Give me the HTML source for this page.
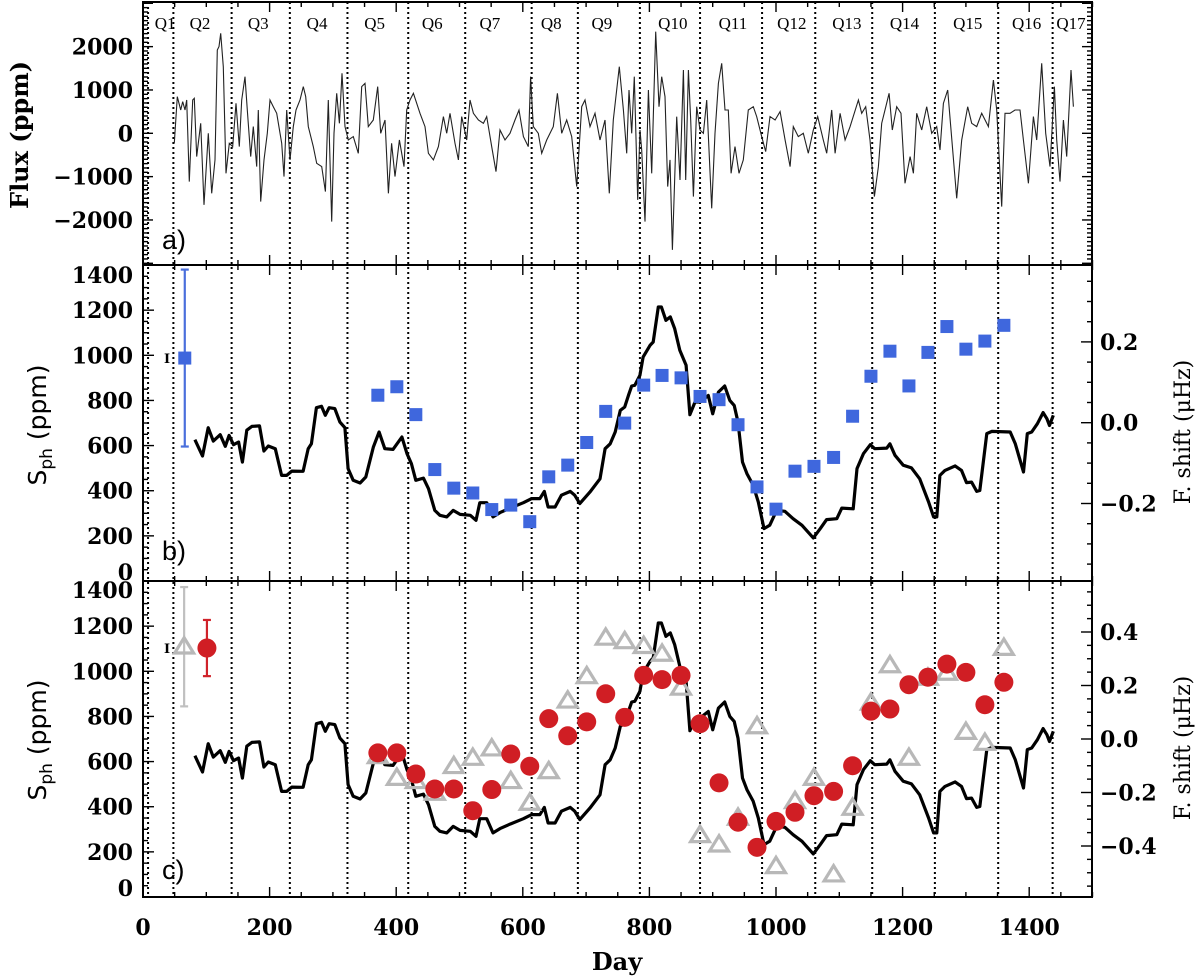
<!DOCTYPE html>
<html><head><meta charset="utf-8">
<style>
html,body{margin:0;padding:0;background:#fff;}
svg{display:block;}
.tl{font-family:"DejaVu Serif","Liberation Serif",serif;font-weight:bold;font-size:22px;fill:#000;}
.ql{font-family:"Liberation Serif","DejaVu Serif",serif;font-size:17px;fill:#000;}
</style></head>
<body>
<svg id="chart" width="1200" height="976" viewBox="0 0 1200 976" xmlns="http://www.w3.org/2000/svg">
<g id="grid"></g>
<g id="pa"></g>
<g id="pb"></g>
<g id="pc"></g>
<g id="axes"></g>
</svg>
<script>
// ---------- data ----------
const quarterBoundaryDays = [8,48,140,232,323,419,509,614,687,785,880,978,1062,1152,1251,1351,1437];
const quarterLabels = ["Q1","Q2","Q3","Q4","Q5","Q6","Q7","Q8","Q9","Q10","Q11","Q12","Q13","Q14","Q15","Q16","Q17"];
const quarterLabelDays = [35,90,182,275,366,457,548,645,725,837,932,1025,1112,1203,1303,1396,1466];

const fluxDays = [49.5,54.2,59.5,62.7,66.4,69,73.2,78.5,81.1,84.8,91.1,96.4,103.2,108.5,113.7,117.4,120.1,122.7,126.9,131.1,136.4,141.7,146.9,152.2,155.9,161.1,164.8,170.1,174.3,179.6,182.2,185.9,191.2,196.4,200.6,205.9,211.2,219.1,222.8,227,232.2,237.5,241.7,248,253.3,257,261.2,269.1,274.4,282.3,288.1,292.8,298.1,301.7,306,310.2,314.4,319.1,324.4,332.3,340.2,345.5,350.7,356,363.9,370.7,375.5,382.3,387.6,392.8,398.1,405,412.3,416.6,421.8,427.1,437.6,445.5,450.8,458.7,466.6,474.5,479.7,485,492.9,498.2,503.4,511.3,516.6,521.9,529.8,537.7,542.9,550.8,557.7,564,571.9,579.8,587.7,594,600.9,608.7,612.4,616.6,624.5,629.8,637.7,648.2,654.6,661.4,669.3,677.2,685.1,693,698.3,706.2,714.1,722,729.9,736.7,743,752.5,
758.9,764.1,767.8,772,776.2,781.5,785.2,787.8,793.1,798.4,803.6,810,815.2,819.4,824.7,828.9,832.6,836.3,843.1,848.4,853.7,857.3,861.6,865.2,869.5,874.7,880,885.3,890.5,898.4,903.7,909,914.2,919.5,924.7,929,935.3,941.6,948.4,956.3,964.2,969.5,977.4,983.7,990.6,998.5,1006.4,1014.3,1022.2,1027.4,1035.3,1043.2,1051.1,1059,1065.9,1074.8,1080.1,1088,1093.3,1101.2,1109.1,1117,1130.1,1135.4,1141.7,1148.5,1155.4,1161.7,1167,1172.2,1178.6,1183.8,1190.7,1197.5,1203.8,1211.8,1217,1222.3,1230.2,1238.1,1246,1253.9,1259.1,1264.4,1271.2,1278.6,1285.5,1293.4,1302.8,1309.2,1317.1,1325,1335.5,1343.4,1348.7,1356.6,1361.8,1369.7,1377.6,1385.5,1390.8,1398.7,1406.6,1411.8,1419.8,1426.1,1432.9,1439.8,1443.5,1448.7,1454,1459.2,1466.1,1469.8];
const fluxPpm = [-230,846,538,731,538,769,-1115,769,807,-538,231,-1653,0,-1384,-615,1923,2000,2307,1538,-923,-231,-308,692,-308,769,1307,538,-538,154,-769,538,-1576,-615,0,769,615,461,-231,-1000,538,-615,154,538,769,1077,846,154,-308,-692,-769,-1346,769,-2038,0,923,231,1384,154,-154,-77,-461,1077,1154,154,308,1077,0,308,-1384,-231,-1000,-154,-769,538,769,923,461,154,-461,-615,-308,385,0,461,-231,-615,385,-154,769,461,308,231,385,-308,-884,77,-154,0,308,538,-77,-308,1307,154,0,-461,-154,154,923,0,308,-77,-1230,615,769,154,461,-154,308,-1384,308,1538,
538,-461,1000,0,1307,-1538,77,-385,-2038,1000,-923,2345,615,1307,846,-1230,-615,-2692,385,-1077,1461,-1077,1461,308,-1461,615,77,0,769,-1730,0,1154,1615,538,538,-923,-308,-923,-615,538,615,385,-77,-423,385,308,500,-154,-769,154,-77,0,-461,77,385,-154,-461,538,-461,461,-154,154,769,461,615,-154,-1461,-769,231,538,923,77,615,461,-1154,-538,-923,461,77,615,0,154,-385,692,1000,-308,-1500,-154,615,231,154,461,154,1230,538,-1692,461,461,538,538,-154,-1154,385,-154,1615,0,-769,1077,-154,-1115,308,-538,1461,615];

const sphDays = [82,94,103,111,122,130,136,143,151,157,164,172,184,191,198,209,219,227,235,253,261,266,274,282,288,294,303,311,319,324,332,343,352,364,373,382,395,409,417,424,431,443,451,461,469,480,490,501,517,526,532,543,553,564,580,601,614,627,634,640,651,661,675,682,690,706,722,730,738,746,754,761,767,772,777,785,790,801,806,814,819,826,833,840,848,858,864,872,880,893,900,909,919,927,934,940,947,954,964,972,981,990,1001,1014,1027,1041,1059,1070,1080,1096,1104,1122,1128,1138,1149,1156,1175,1180,1188,1201,1214,1227,1241,1249,1254,1259,1267,1283,1293,1301,1309,1317,1322,1333,1341,1370,1378,1391,1397,1404,1413,1422,1428,1432,1438];
const sphPpm = [626,554,679,620,648,597,645,604,616,527,668,685,687,576,598,586,468,468,487,486,586,608,768,774,734,768,764,704,679,498,446,434,461,594,660,586,583,638,564,520,446,456,409,313,291,284,313,295,291,269,347,347,284,303,323,347,365,365,397,328,328,380,397,380,343,394,453,586,608,660,756,771,823,864,867,911,992,1044,1059,1214,1214,1155,1170,1118,1022,956,737,793,793,822,741,837,864,800,778,704,527,476,424,350,232,247,313,309,276,247,191,232,272,276,323,320,498,564,604,586,589,608,557,513,501,453,350,284,284,468,490,510,490,436,438,397,401,653,663,660,608,483,653,660,697,746,719,689,734];

const blueDays = [371,401,431,461,491,521,551,581,611,641,671,701,731,761,791,820,850,880,910,940,970,1000,1030,1060,1091,1121,1150,1180,1210,1240,1270,1300,1330,1360];
const blueShift = [0.068,0.089,0.020,-0.116,-0.162,-0.174,-0.215,-0.204,-0.245,-0.134,-0.105,-0.049,0.028,-0.001,0.093,0.117,0.111,0.065,0.057,-0.005,-0.159,-0.214,-0.120,-0.108,-0.086,0.016,0.115,0.177,0.091,0.174,0.238,0.182,0.202,0.241];
const blueErr = {day:66, value:0.160, err:0.219};

const redDays = [371,401,431,461,491,521,551,581,611,641,671,701,731,761,791,820,850,880,910,940,970,1000,1030,1060,1091,1121,1150,1180,1210,1240,1270,1300,1330,1360];
const redShift = [-0.052,-0.052,-0.131,-0.187,-0.187,-0.268,-0.189,-0.056,-0.102,0.076,0.012,0.064,0.169,0.081,0.238,0.222,0.238,0.057,-0.164,-0.311,-0.405,-0.308,-0.274,-0.212,-0.196,-0.100,0.104,0.112,0.203,0.231,0.280,0.249,0.128,0.212];
const grayDays = [371,401,431,461,491,521,551,581,611,641,671,701,731,761,791,820,850,880,910,940,970,1000,1030,1060,1091,1121,1150,1180,1210,1240,1270,1300,1330,1360];
const grayShift = [-0.065,-0.146,-0.158,-0.202,-0.102,-0.071,-0.036,-0.158,-0.239,-0.121,0.143,0.234,0.378,0.365,0.347,0.318,0.191,-0.360,-0.395,-0.295,0.047,-0.476,-0.233,-0.146,-0.507,-0.258,0.135,0.275,-0.071,0.228,0.247,0.026,-0.015,0.340];
const redErr = {day:101, value:0.340, err:0.105};
const grayErr = {day:65, value:0.345, err:0.223};

const xTicks = [0,200,400,600,800,1000,1200,1400];
const fluxTicks = [2000,1000,0,-1000,-2000];
const sphTicks = [0,200,400,600,800,1000,1200,1400];
const fbTicks = [0.2,0.0,-0.2];
const fcTicks = [0.4,0.2,0.0,-0.2,-0.4];

// ---------- scales ----------
const L=143, R=1092;
const X = d => L + d*0.633;
const PA={top:2,bot:265}, PB={top:265,bot:581}, PC={top:581,bot:897};
const yA = f => 133.3 - f*0.04333;
const yS = (s,p) => p.bot - s*0.2257;
const yFb = f => 422.7 - f*404;
const yFc = f => 739 - f*267.5;

const NS="http://www.w3.org/2000/svg";
function mk(tag, parent, attrs){const e=document.createElementNS(NS,tag);for(const k in attrs)e.setAttribute(k,attrs[k]);parent.appendChild(e);return e;}
const svg=document.getElementById('chart');
const gG=document.getElementById('grid'), gA=document.getElementById('pa'), gB=document.getElementById('pb'), gC=document.getElementById('pc'), gX=document.getElementById('axes');

// clip paths
const defs=mk('defs',svg,{});
[['ca',PA],['cb',PB],['cc',PC]].forEach(([id,p])=>{const c=mk('clipPath',defs,{id:id});mk('rect',c,{x:L,y:p.top,width:R-L,height:p.bot-p.top});});

// quarter boundary lines
quarterBoundaryDays.forEach((d,i)=>{
  const l=mk('line',gG,{x1:X(d),x2:X(d),y1:PA.top,y2:PC.bot,stroke:'#000','stroke-width':2,'stroke-dasharray':'2 3'});
  
  
});
quarterLabels.forEach((q,i)=>{
  const t=mk('text',gG,{x:X(quarterLabelDays[i]),y:29,'text-anchor':'middle',class:'ql'});
  t.textContent=q;
  
  
});

// panel a flux
let dA=fluxDays.map((d,i)=>(i?'L':'M')+X(d).toFixed(1)+' '+yA(fluxPpm[i]).toFixed(1)).join(' ');
const fp=mk('path',gA,{d:dA,fill:'none',stroke:'#222','stroke-width':1.1,'clip-path':'url(#ca)'});



// Sph lines
function sphLine(g,p,clip){
  const d=sphDays.map((x,i)=>(i?'L':'M')+X(x).toFixed(1)+' '+yS(sphPpm[i],p).toFixed(1)).join(' ');
  const e=mk('path',g,{d:d,fill:'none',stroke:'#000','stroke-width':3.2,'stroke-linejoin':'round','clip-path':clip});
  
  
}
sphLine(gB,PB,'url(#cb)');
sphLine(gC,PC,'url(#cc)');

// blue error bar
function errBar(g,cx,yc,yt,yb,color,name){
  const e=mk('g',g,{});
  
  
  mk('line',e,{x1:cx,x2:cx,y1:yt,y2:yb,stroke:color,'stroke-width':2.2});
  mk('line',e,{x1:cx-4,x2:cx+4,y1:yt,y2:yt,stroke:color,'stroke-width':2.2});
  mk('line',e,{x1:cx-4,x2:cx+4,y1:yb,y2:yb,stroke:color,'stroke-width':2.2});
  return e;
}
errBar(gB,X(blueErr.day),yFb(blueErr.value),yFb(blueErr.value+blueErr.err),yFb(blueErr.value-blueErr.err),'#4a6fdc','blue-error-bar');
const beSq=mk('rect',gB,{x:X(blueErr.day)-6.5,y:yFb(blueErr.value)-6.5,width:13,height:13,fill:'#3f67dd'});


blueDays.forEach((d,i)=>{
  const r=mk('rect',gB,{x:X(d)-6.5,y:yFb(blueShift[i])-6.5,width:13,height:13,fill:'#3f67dd'});
  
  
});

// panel c
function tri(g,cx,cy){
  const s=9;
  const p=mk('polygon',g,{points:`${cx},${cy-s} ${cx-s*1.05},${cy+s*0.7} ${cx+s*1.05},${cy+s*0.7}`,fill:'none',stroke:'#b8b8b8','stroke-width':3.2});
  return p;
}
errBar(gC,X(grayErr.day),yFc(grayErr.value),yFc(grayErr.value+grayErr.err),yFc(grayErr.value-grayErr.err),'#c0c0c0','gray-error-bar');
const gt=tri(gC,X(grayErr.day),yFc(grayErr.value));


grayDays.forEach((d,i)=>{
  const t=tri(gC,X(d),yFc(grayShift[i]));
  
  
});
errBar(gC,X(redErr.day),yFc(redErr.value),yFc(redErr.value+redErr.err),yFc(redErr.value-redErr.err),'#d0222a','red-error-bar');
const rc=mk('circle',gC,{cx:X(redErr.day),cy:yFc(redErr.value),r:9.5,fill:'#d01e24'});


redDays.forEach((d,i)=>{
  const c=mk('circle',gC,{cx:X(d),cy:yFc(redShift[i]),r:9.5,fill:'#d01e24'});
  
  
});

// small "I" markers
[[PB,yFb(blueErr.value)],[PC,yFc(redErr.value)]].forEach(([p,y])=>{
  const t=mk('text',gX,{x:167,y:y+5,'text-anchor':'middle','font-family':'DejaVu Serif, serif','font-weight':'bold','font-size':'13px'});
  t.textContent='I';
  
  
});

// ---------- axes ----------
function line(x1,y1,x2,y2,w){mk('line',gX,{x1,y1,x2,y2,stroke:'#000','stroke-width':w||1.4});}
[PA,PB,PC].forEach(p=>{
  const f=mk('rect',gX,{x:L,y:p.top,width:R-L,height:p.bot-p.top,fill:'none',stroke:'#000','stroke-width':2});
  
  
  for(let d=0; d<=1500; d+=50){
    const len=(d%200===0)?10:5;
    line(X(d),p.bot,X(d),p.bot-len);
    line(X(d),p.top,X(d),p.top+len);
  }
});
// panel a y ticks (both sides)
for(let f=-3000; f<=3000; f+=100){
  const y=yA(f); if(y<PA.top||y>PA.bot) continue;
  const len=(f%1000===0)?10:5;
  line(L,y,L+len,y); line(R,y,R-len,y);
}
// panel b/c left
[PB,PC].forEach(p=>{for(let s=0;s<=1400;s+=50){const y=yS(s,p);const len=(s%200===0)?11:5;line(L,y,L+len,y);}});
// panel b right
for(let k=-8;k<=8;k++){const f=k*0.05;const y=yFb(f);if(y<PB.top||y>PB.bot)continue;const len=(k%4===0)?11:5;line(R,y,R-len,y);}
for(let k=-12;k<=12;k++){const f=k*0.05;const y=yFc(f);if(y<PC.top||y>PC.bot)continue;const len=(k%4===0)?11:5;line(R,y,R-len,y);}

function txt(s,x,y,anchor,name){const t=mk('text',gX,{x,y,'text-anchor':anchor,class:'tl'});t.textContent=s;return t;}
xTicks.forEach(d=>txt(String(d),X(d),935,'middle','x-tick-label'));
fluxTicks.forEach(f=>txt(f<0?'\u2212'+(-f):String(f),133,yA(f)+8,'end','flux-tick-label'));
sphTicks.forEach(s=>{let y=yS(s,PB)+8; if(s===1400)y+=10; if(s===0)y-=9; txt(String(s),133,y,'end','sph-b-tick-label');});
sphTicks.forEach(s=>{let y=yS(s,PC)+8; if(s===1400)y+=9; if(s===0)y-=9; txt(String(s),133,y,'end','sph-c-tick-label');});
fbTicks.forEach(f=>txt((f<0?'\u2212':'')+Math.abs(f).toFixed(1),1100,yFb(f)+8,'start','fshift-b-tick-label'));
fcTicks.forEach(f=>txt((f<0?'\u2212':'')+Math.abs(f).toFixed(1),1100,yFc(f)+8,'start','fshift-c-tick-label'));
</script>
<svg width="0" height="0" style="position:absolute"></svg>
<div style="position:absolute;left:0;top:0;width:1200px;height:976px;pointer-events:none;">
<svg width="1200" height="976" style="position:absolute;left:0;top:0">
  <text x="28" y="135" transform="rotate(-90 28 135)" text-anchor="middle" font-family="DejaVu Serif, serif" font-weight="bold" font-size="24">Flux (ppm)</text>
  <text x="46" y="425" transform="rotate(-90 46 425)" text-anchor="middle" font-family="DejaVu Sans, sans-serif" font-size="25">S<tspan font-size="17" dy="6">ph</tspan><tspan dy="-6"> (ppm)</tspan></text>
  <text x="46" y="740" transform="rotate(-90 46 740)" text-anchor="middle" font-family="DejaVu Sans, sans-serif" font-size="25">S<tspan font-size="17" dy="6">ph</tspan><tspan dy="-6"> (ppm)</tspan></text>
  <text x="1190" y="432" transform="rotate(-90 1190 432)" text-anchor="middle" font-family="DejaVu Serif, serif" font-size="22">F. shift (μHz)</text>
  <text x="1190" y="748" transform="rotate(-90 1190 748)" text-anchor="middle" font-family="DejaVu Serif, serif" font-size="22">F. shift (μHz)</text>
  <text x="617" y="970" text-anchor="middle" font-family="DejaVu Serif, serif" font-weight="bold" font-size="24">Day</text>
  <text x="162" y="249" font-family="Liberation Sans, sans-serif" font-size="27">a)</text>
  <text x="162" y="560" font-family="Liberation Sans, sans-serif" font-size="27">b)</text>
  <text x="162" y="879" font-family="Liberation Sans, sans-serif" font-size="27">c)</text>
</svg>
</div>
</body></html>
